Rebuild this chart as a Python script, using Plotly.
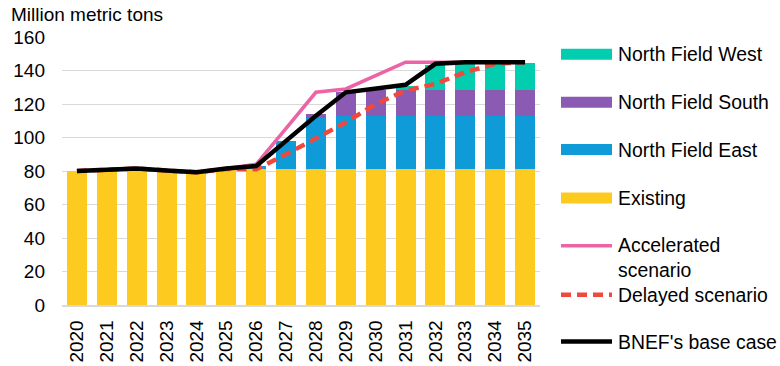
import plotly.graph_objects as go

years = [str(y) for y in range(2020, 2036)]
existing = [80, 80.3, 81.5, 80, 79, 81, 81, 81, 81, 81, 81, 81, 81, 81, 81, 81]
north_east = [0, 0, 0, 0, 0, 0, 2, 17, 30.5, 32, 32, 32, 32, 32, 32, 32]
north_south = [0, 0, 0, 0, 0, 0, 0, 0, 2.5, 14, 15.5, 15.5, 15.5, 15.5, 15.5, 15.5]
north_west = [0, 0, 0, 0, 0, 0, 0, 0, 0, 0, 0, 2, 14.5, 16, 16, 16]
accelerated = [80, 80.5, 81.5, 80.3, 79.2, 81.5, 84, 105.5, 127, 129, 137, 145, 145, 145, 145, 145]
delayed = [80, 80.5, 81.5, 80.3, 79.2, 81.2, 81, 90, 99.5, 109, 120, 128, 132, 139, 144, 145]
base_case = [80, 80.5, 81.5, 80.3, 79.2, 81.5, 83, 98, 113, 127, 129.5, 131.5, 144, 145, 145, 145]
y_ticks = [0, 20, 40, 60, 80, 100, 120, 140, 160]

C_EXIST = "#FDCB1F"
C_EAST = "#0F9AD8"
C_SOUTH = "#8B5BB3"
C_WEST = "#02CEAF"
C_PINK = "#EC63A6"
C_RED = "#F0483C"
C_BLACK = "#000000"

W, H = 780, 366
L, R, T, B = 62, 540, 36.7, 305.3
FONT = "Liberation Sans, Arial, sans-serif"
FS = 19
FS_LEG = 19.4

fig = go.Figure()
for name, vals, col in [("Existing", existing, C_EXIST),
                        ("North Field East", north_east, C_EAST),
                        ("North Field South", north_south, C_SOUTH),
                        ("North Field West", north_west, C_WEST)]:
    fig.add_trace(go.Bar(x=years, y=vals, name=name, marker=dict(color=col, line=dict(width=0)),
                         showlegend=False))

fig.add_trace(go.Scatter(x=years, y=accelerated, mode="lines", name="Accelerated scenario",
                         line=dict(color=C_PINK, width=3.5), showlegend=False))
fig.add_trace(go.Scatter(x=years, y=delayed, mode="lines", name="Delayed scenario",
                         line=dict(color=C_RED, width=4.5, dash="10px,6px"), showlegend=False))
fig.add_trace(go.Scatter(x=years, y=base_case, mode="lines", name="BNEF's base case",
                         line=dict(color=C_BLACK, width=4.5), showlegend=False))


def px(x):
    """window pixel x -> paper coordinate"""
    return (x - L) / (R - L)


def py(y):
    """window pixel y -> paper coordinate"""
    return (B - y) / (B - T)


shapes = []
annotations = []
legend_rects = [("North Field West", C_WEST, 54), ("North Field South", C_SOUTH, 102),
                ("North Field East", C_EAST, 149.5), ("Existing", C_EXIST, 198)]
for text, col, yc in legend_rects:
    shapes.append(dict(type="rect", xref="paper", yref="paper", x0=px(561), x1=px(612),
                       y0=py(yc + 5.5), y1=py(yc - 5.5), fillcolor=col, line=dict(width=0)))
    annotations.append(dict(text=text, xref="paper", yref="paper", x=px(615.5), y=py(yc),
                            xanchor="left", yanchor="middle", showarrow=False,
                            font=dict(family=FONT, size=FS_LEG, color="#000000")))

legend_lines = [("Accelerated<br>scenario", C_PINK, 3.5, "solid", 246, 257.5),
                ("Delayed scenario", C_RED, 4.5, "10px,6px", 295, 295),
                ("BNEF's base case", C_BLACK, 4.5, "solid", 342, 342)]
for text, col, wd, dash, yl, yt in legend_lines:
    shapes.append(dict(type="line", xref="paper", yref="paper", x0=px(561), x1=px(612),
                       y0=py(yl), y1=py(yl), line=dict(color=col, width=wd, dash=dash)))
    annotations.append(dict(text=text, xref="paper", yref="paper", x=px(615.5), y=py(yt),
                            xanchor="left", yanchor="middle", showarrow=False, align="left",
                            font=dict(family=FONT, size=FS_LEG, color="#000000")))

annotations.append(dict(text="Million metric tons", xref="paper", yref="paper", x=px(9), y=py(1.5),
                        xanchor="left", yanchor="top", showarrow=False,
                        font=dict(family=FONT, size=FS, color="#000000")))

fig.update_layout(
    width=W, height=H,
    margin=dict(l=L, r=W - R, t=T, b=H - B, pad=0, autoexpand=False),
    barmode="stack", bargap=0.33,
    plot_bgcolor="white", paper_bgcolor="white",
    font=dict(family=FONT, size=FS, color="#000000"),
    shapes=shapes, annotations=annotations, showlegend=False,
)
fig.update_xaxes(type="category", tickangle=-90, showgrid=False, showline=True,
                 linecolor="#D9D9D9", linewidth=1.5, ticks="", ticklabelstandoff=6,
                 automargin=False, tickfont=dict(family=FONT, size=FS))
fig.update_yaxes(range=[0, 160], tickvals=y_ticks, showgrid=True, gridcolor="#D9D9D9",
                 gridwidth=1.3, zeroline=False, showline=False, ticks="", ticklabelstandoff=16,
                 automargin=False, tickfont=dict(family=FONT, size=FS))

fig.write_html("out.html", config={"displayModeBar": False},
               post_script="document.body.style.margin='0px';document.body.style.overflow='hidden';")
